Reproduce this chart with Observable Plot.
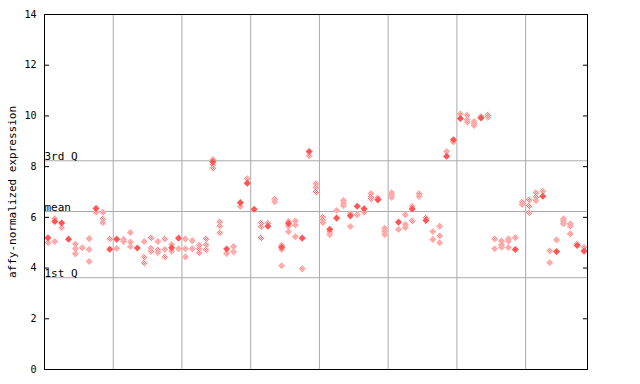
<!DOCTYPE html>
<html><head><meta charset="utf-8">
<script src="https://cdn.jsdelivr.net/npm/d3@7"></script>
<script src="https://cdn.jsdelivr.net/npm/@observablehq/plot@0.6"></script>
<style>body{margin:0;background:#fff}</style></head>
<body><div id="chart"></div>
<script>
const solid = [5.19,5.84,5.78,5.14,null,null,null,6.35,null,4.74,
  5.14,null,null,4.79,null,null,null,null,4.80,5.18,
  null,null,null,null,8.19,null,4.75,null,6.58,7.35,
  6.32,null,5.65,null,4.82,5.76,null,5.18,8.60,null,
  null,5.53,5.97,null,6.06,6.44,6.34,null,6.69,null,
  null,5.81,null,6.33,null,5.88,null,null,8.41,9.06,
  9.90,null,null,9.92,null,null,null,null,4.73,null,
  null,null,6.83,null,4.65,null,null,4.89,4.67];
const hollow = [
  [5.0],[5.95,5.05],[5.59],[],[4.95,4.76,4.56],[4.80],[5.16,4.73,4.26],[6.2],[6.2,5.94,5.79],[5.15],
  [4.77],[5.13,5.05],[5.40,5.03,4.85],[],[5.05,4.43,4.20],[5.19,4.78,4.66],[5.05,4.72,4.62],[5.15,4.73,4.44],[4.93,4.67],[4.76],
  [5.15,4.76,4.44],[5.08,4.76],[4.90,4.76,4.60],[5.15,4.92,4.72],[8.28,8.07,7.94],[5.82,5.66,5.39],[4.57],[4.85,4.64],[6.43],[7.52],
  [],[5.78,5.63,5.19],[5.77],[6.72,6.62],[4.90,4.73,4.09],[5.84,5.65,5.43],[5.86,5.70,5.24],[3.97],[8.43],[7.33,7.17,7.0],
  [6.01,5.90,5.79],[5.42,5.32],[6.27],[6.66,6.56,6.46],[6.14,5.64],[6.10],[6.20],[6.94,6.80,6.73],[6.76],[5.57,5.45,5.32],
  [6.97,6.89,6.79],[5.52],[6.10,5.72,5.60],[6.44,5.86],[6.93,6.82],[5.98],[5.44,5.13],[5.65,5.27,5.0],[8.60],[8.97],
  [10.08],[10.03,9.85,9.75],[9.78,9.70,9.62],[9.98],[10.04,9.95],[5.15,4.76],[5.07,4.93,4.82],[5.15,5.06,4.81],[5.20],[6.60,6.51],
  [6.69,6.45,6.18],[6.97,6.80,6.66],[7.03],[4.68,4.21],[5.11],[5.94,5.85,5.75],[5.75,5.65,5.35],[4.95],[4.82]
];
const refLabels = ["3rd Q", "mean", "1st Q"];
const refValues = [8.23, 6.23, 3.62];
const groupBreaks = [10, 20, 30, 40, 50, 60, 70];
const yTicks = [0, 2, 4, 6, 8, 10, 12, 14];
const nSamples = 79;
const yLabel = "affy-normalized expression";

const hollowRows = hollow.flatMap((vs, i) => vs.map(v => ({x: i + 0.5, y: v})));
const solidRows = solid.map((v, i) => ({x: i + 0.5, y: v})).filter(d => d.y != null);

const chart = Plot.plot({
  width: 640, height: 384,
  marginLeft: 44, marginRight: 53, marginTop: 14, marginBottom: 15,
  style: {fontFamily: "'DejaVu Sans Mono', monospace", fontSize: "10px", background: "#fff", color: "#000"},
  x: {domain: [0, nSamples], axis: null},
  y: {domain: [0, 14], axis: null},
  marks: [
    Plot.ruleX(groupBreaks, {stroke: "#aaa", strokeOpacity: 1}),
    Plot.ruleY(refValues, {stroke: "#aaa", strokeOpacity: 1}),
    Plot.text(refLabels, {x: 0, y: (d, i) => refValues[i], textAnchor: "start", lineAnchor: "bottom", dy: -1, fontSize: 11}),
    Plot.dot(hollowRows, {x: "x", y: "y", symbol: "diamond2", r: 3.2, fill: "url(#chk)", stroke: "none"}),
    Plot.dot(solidRows, {x: "x", y: "y", symbol: "diamond2", r: 3.2, fill: "#ff5555", stroke: "none"}),
    Plot.axisY(yTicks, {anchor: "left", tickSize: -5, tickPadding: 13, tickFormat: d => d, label: null, fontSize: 10}),
    Plot.axisY(yTicks, {anchor: "right", tickSize: -5, tickFormat: () => "", label: null}),
    Plot.frame({stroke: "#000"}),
    Plot.text([yLabel], {frameAnchor: "left", textAnchor: "middle", rotate: -90, dx: -32, fontSize: 11})
  ]
});

const ns = "http://www.w3.org/2000/svg";
const defs = document.createElementNS(ns, "defs");
const pat = document.createElementNS(ns, "pattern");
pat.setAttribute("id", "chk");
pat.setAttribute("width", "2");
pat.setAttribute("height", "2");
pat.setAttribute("patternUnits", "userSpaceOnUse");
[[0,0,2,2,"#fff"],[0,0,1,1,"#ff5555"],[1,1,1,1,"#ff5555"]].forEach(([x,y,w,h,c]) => {
  const r = document.createElementNS(ns, "rect");
  r.setAttribute("x", x); r.setAttribute("y", y);
  r.setAttribute("width", w); r.setAttribute("height", h);
  r.setAttribute("fill", c);
  pat.appendChild(r);
});
defs.appendChild(pat);
chart.insertBefore(defs, chart.firstChild);
document.getElementById("chart").appendChild(chart);
</script>
</body></html>
